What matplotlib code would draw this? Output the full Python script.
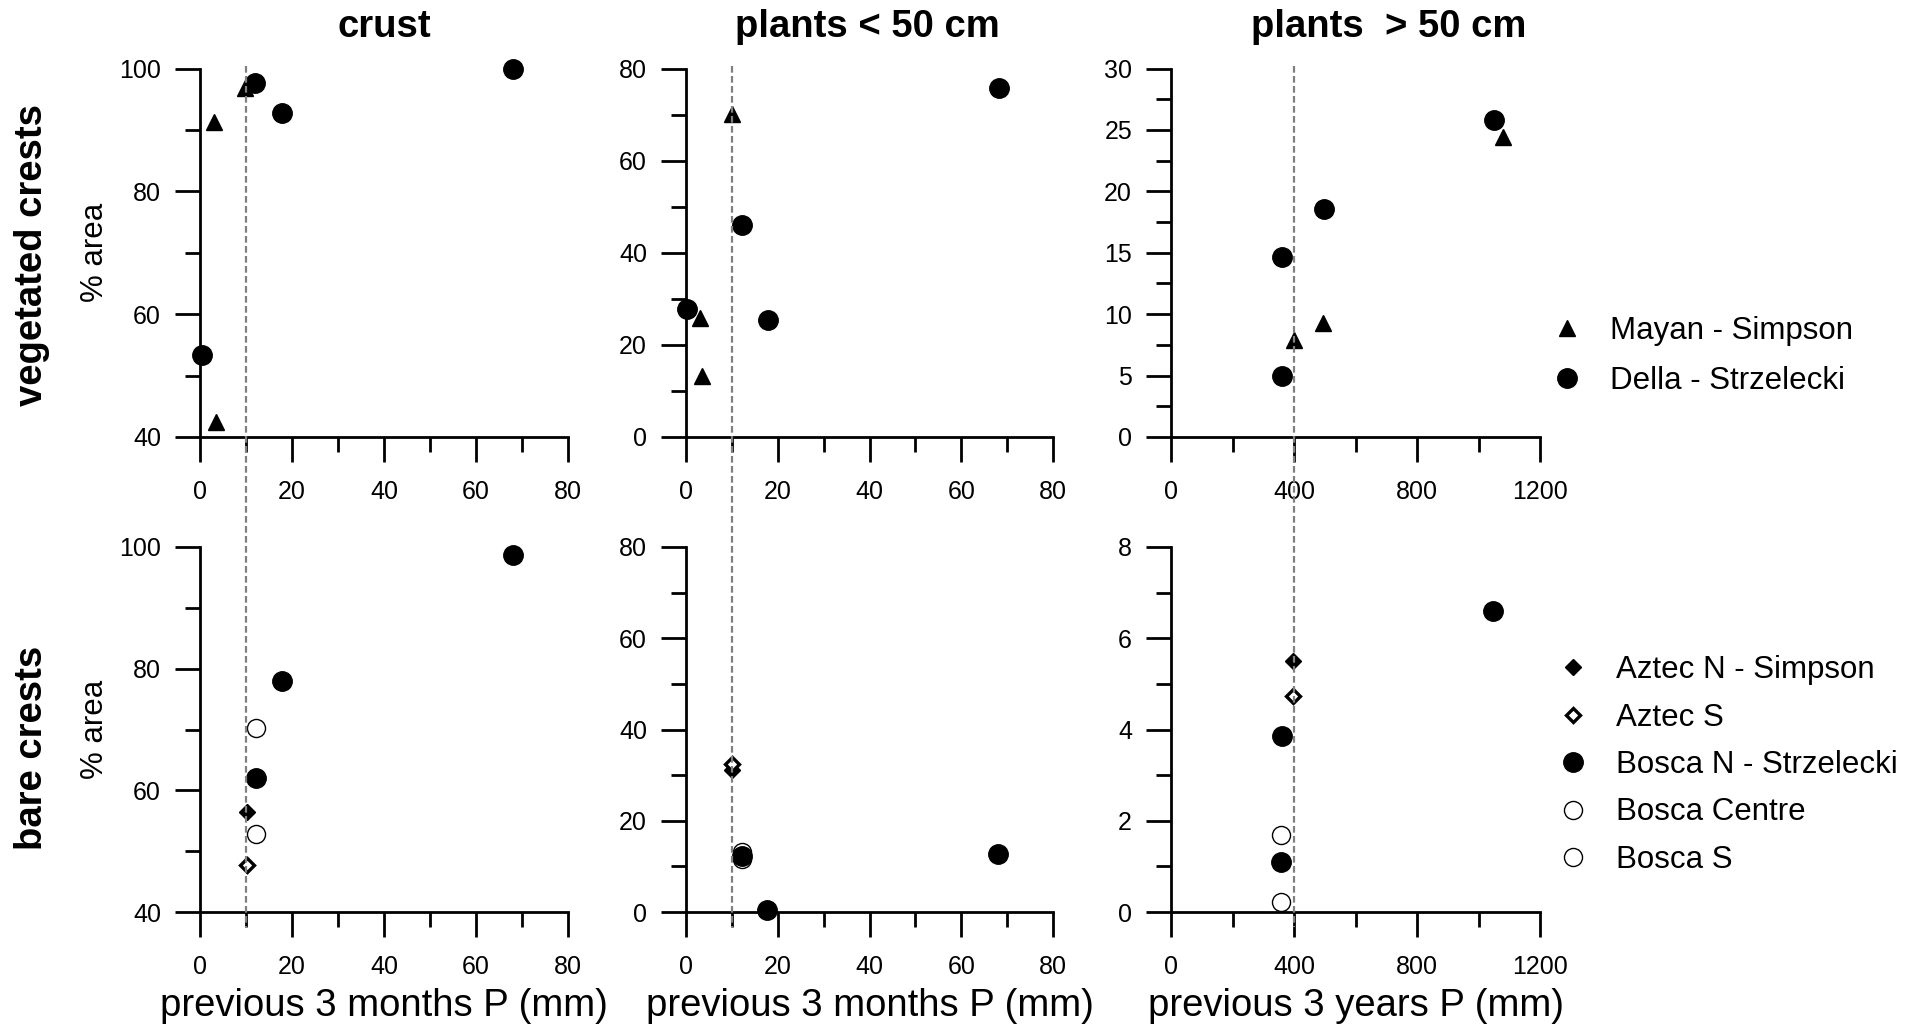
import numpy as np
import matplotlib.pyplot as plt
from matplotlib.lines import Line2D
from matplotlib import transforms

plt.rcParams['font.family'] = ['Liberation Sans', 'DejaVu Sans']

# --- datos ---
# fila superior: crestas con vegetacion (Mayan - Simpson / Della - Strzelecki)
crust_mayan_x = [9.8, 3.0, 3.4]
crust_mayan_y = [96.8, 91.3, 42.4]
crust_della_x = [68.0, 12.0, 17.8, 0.4]
crust_della_y = [100.0, 97.7, 92.8, 53.3]

small_mayan_x = [10.1, 3.0, 3.4]
small_mayan_y = [70.1, 25.8, 13.2]
small_della_x = [68.2, 12.1, 0.3, 17.9]
small_della_y = [75.7, 46.1, 27.7, 25.4]

tall_mayan_x = [1081, 495, 400]
tall_mayan_y = [24.4, 9.3, 7.9]
tall_della_x = [1051, 499, 360, 362]
tall_della_y = [25.8, 18.55, 14.65, 5.0]

# fila inferior: crestas desnudas
bcrust_aztn_x = [10.2]
bcrust_aztn_y = [56.4]
bcrust_azts_x = [10.2]
bcrust_azts_y = [47.7]
bcrust_bosn_x = [68.1, 17.85, 12.1]
bcrust_bosn_y = [98.7, 78.0, 62.1]
bcrust_bosc_x = [12.1]
bcrust_bosc_y = [70.25]
bcrust_boss_x = [12.1]
bcrust_boss_y = [52.8]

bsmall_aztn_x = [10.0]
bsmall_aztn_y = [31.1]
bsmall_azts_x = [10.0]
bsmall_azts_y = [32.5]
bsmall_bosn_x = [68.1, 17.7, 12.1]
bsmall_bosn_y = [12.7, 0.5, 12.3]
bsmall_bosc_x = [12.1]
bsmall_bosc_y = [13.2]
bsmall_boss_x = [12.1]
bsmall_boss_y = [11.6]

btall_aztn_x = [398]
btall_aztn_y = [5.51]
btall_azts_x = [398]
btall_azts_y = [4.73]
btall_bosn_x = [1048, 360, 358]
btall_bosn_y = [6.59, 3.85, 1.10]
btall_bosc_x = [358]
btall_bosc_y = [1.68]
btall_boss_x = [358]
btall_boss_y = [0.21]

col_titles = ["crust", "plants < 50 cm", "plants  > 50 cm"]
row_titles = ["vegetated crests", "bare crests"]
x_titles = ["previous 3 months P (mm)", "previous 3 months P (mm)", "previous 3 years P (mm)"]
top_labels = ["Mayan - Simpson", "Della - Strzelecki"]
bot_labels = ["Aztec N - Simpson", "Aztec S", "Bosca N - Strzelecki", "Bosca Centre", "Bosca S"]
thresholds = [10, 10, 400]

# --- figura ---
W, H = 1912, 1028
fig = plt.figure(figsize=(W / 100, H / 100), dpi=100)

cols = [(200, 568), (686, 1053), (1171, 1540)]
rows = [(68.5, 437), (547, 912)]

def caja(c, r):
    x0, x1 = cols[c]
    y0, y1 = rows[r]
    return [x0 / W, 1 - y1 / H, (x1 - x0) / W, (y1 - y0) / H]

xlims = [(0, 80, 20, 10), (0, 80, 20, 10), (0, 1200, 400, 200)]
ylims = [[(40, 100, 20, 10), (0, 80, 20, 10), (0, 30, 5, 2.5)],
         [(40, 100, 20, 10), (0, 80, 20, 10), (0, 8, 2, 1)]]

axes = [[None] * 3 for _ in range(2)]
for r in range(2):
    for c in range(3):
        ax = fig.add_axes(caja(c, r))
        xa, xb, xM, xm = xlims[c]
        ya, yb, yM, ym = ylims[r][c]
        ax.set_xlim(xa, xb)
        ax.set_ylim(ya, yb)
        ax.set_xticks(np.arange(xa, xb + 0.01, xM))
        ax.set_xticks(np.arange(xa, xb + 0.01, xm), minor=True)
        ax.set_yticks(np.arange(ya, yb + 0.01, yM))
        ax.set_yticks(np.arange(ya, yb + 0.01, ym), minor=True)
        ax.xaxis.set_major_formatter(plt.FormatStrFormatter('%g'))
        ax.yaxis.set_major_formatter(plt.FormatStrFormatter('%g'))
        for s in ['top', 'right']:
            ax.spines[s].set_visible(False)
        for s in ['left', 'bottom']:
            ax.spines[s].set_linewidth(2)
        ax.tick_params(which='major', direction='out', length=18, width=2,
                       labelsize=18)
        ax.tick_params(which='minor', direction='out', length=11, width=2)
        ax.tick_params(axis='x', which='major', pad=13)
        ax.tick_params(axis='y', which='major', pad=10)
        ax.patch.set_alpha(0)
        axes[r][c] = ax

tri = dict(marker='^', ms=12, color='black', ls='none', clip_on=False)
cir = dict(marker='o', ms=14, color='black', ls='none', clip_on=False)
ocir = dict(marker='o', ms=13, mfc='white', mec='black', mew=1, ls='none', clip_on=False)
fdia = dict(marker='D', ms=8.5, color='black', mew=1, ls='none', clip_on=False)
odia = dict(marker='D', ms=7.5, mfc='white', mec='black', mew=2.4, ls='none', clip_on=False)

top_data = [(crust_mayan_x, crust_mayan_y, crust_della_x, crust_della_y),
            (small_mayan_x, small_mayan_y, small_della_x, small_della_y),
            (tall_mayan_x, tall_mayan_y, tall_della_x, tall_della_y)]
top_handles = []
for c, (mx, my, dx, dy) in enumerate(top_data):
    ax = axes[0][c]
    h1, = ax.plot(mx, my, **tri)
    h2, = ax.plot(dx, dy, **cir)
    if c == 0:
        top_handles = [h1, h2]

bot_data = [
    (bcrust_aztn_x, bcrust_aztn_y, bcrust_azts_x, bcrust_azts_y, bcrust_bosn_x, bcrust_bosn_y,
     bcrust_bosc_x, bcrust_bosc_y, bcrust_boss_x, bcrust_boss_y),
    (bsmall_aztn_x, bsmall_aztn_y, bsmall_azts_x, bsmall_azts_y, bsmall_bosn_x, bsmall_bosn_y,
     bsmall_bosc_x, bsmall_bosc_y, bsmall_boss_x, bsmall_boss_y),
    (btall_aztn_x, btall_aztn_y, btall_azts_x, btall_azts_y, btall_bosn_x, btall_bosn_y,
     btall_bosc_x, btall_bosc_y, btall_boss_x, btall_boss_y),
]
bot_handles = []
for c, d in enumerate(bot_data):
    ax = axes[1][c]
    hc, = ax.plot(d[6], d[7], **ocir)
    hs, = ax.plot(d[8], d[9], **ocir)
    hn, = ax.plot(d[4], d[5], **cir)
    ha, = ax.plot(d[0], d[1], **fdia)
    hb, = ax.plot(d[2], d[3], **odia)
    if c == 0:
        bot_handles = [ha, hb, hn, hc, hs]

# linea de umbral, cruza las dos filas
for c in range(3):
    tr = transforms.blended_transform_factory(axes[0][c].transData, fig.transFigure)
    fig.add_artist(Line2D([thresholds[c]] * 2, [1 - 66 / H, 1 - 927 / H], transform=tr,
                          color='#808080', lw=1.6, ls=(0, (3, 1.5)), zorder=5))

# textos
title_x = [384, 867, 1389]
for c in range(3):
    fig.text(title_x[c] / W, 1 - 37 / H, col_titles[c], ha='center', va='baseline',
             fontsize=27.5, fontweight='bold')
    xc = (cols[c][0] + cols[c][1]) / 2
    fig.text(xc / W, 1 - 1016 / H, x_titles[c], ha='center', va='baseline', fontsize=27.5)

row_y = [255, 748]
for r in range(2):
    fig.text(42 / W, 1 - row_y[r] / H, row_titles[r], rotation=90, rotation_mode='anchor',
             ha='center', va='baseline', fontsize=27.5, fontweight='bold')
    yc = (rows[r][0] + rows[r][1]) / 2
    fig.text(103 / W, 1 - yc / H, "% area", rotation=90, rotation_mode='anchor',
             ha='center', va='baseline', fontsize=22.5)

fig.legend(top_handles, top_labels, loc='upper left', bbox_to_anchor=(1551 / W, 1 - 316 / H),
           frameon=False, fontsize=22.5, handlelength=1.0, handletextpad=0.9,
           labelspacing=0.64, borderpad=0, borderaxespad=0, numpoints=1)
fig.legend(bot_handles, bot_labels, loc='upper left', bbox_to_anchor=(1557 / W, 1 - 655 / H),
           frameon=False, fontsize=22.5, handlelength=1.0, handletextpad=0.9,
           labelspacing=0.56, borderpad=0, borderaxespad=0, numpoints=1)

fig.savefig("out.png", dpi=100)
